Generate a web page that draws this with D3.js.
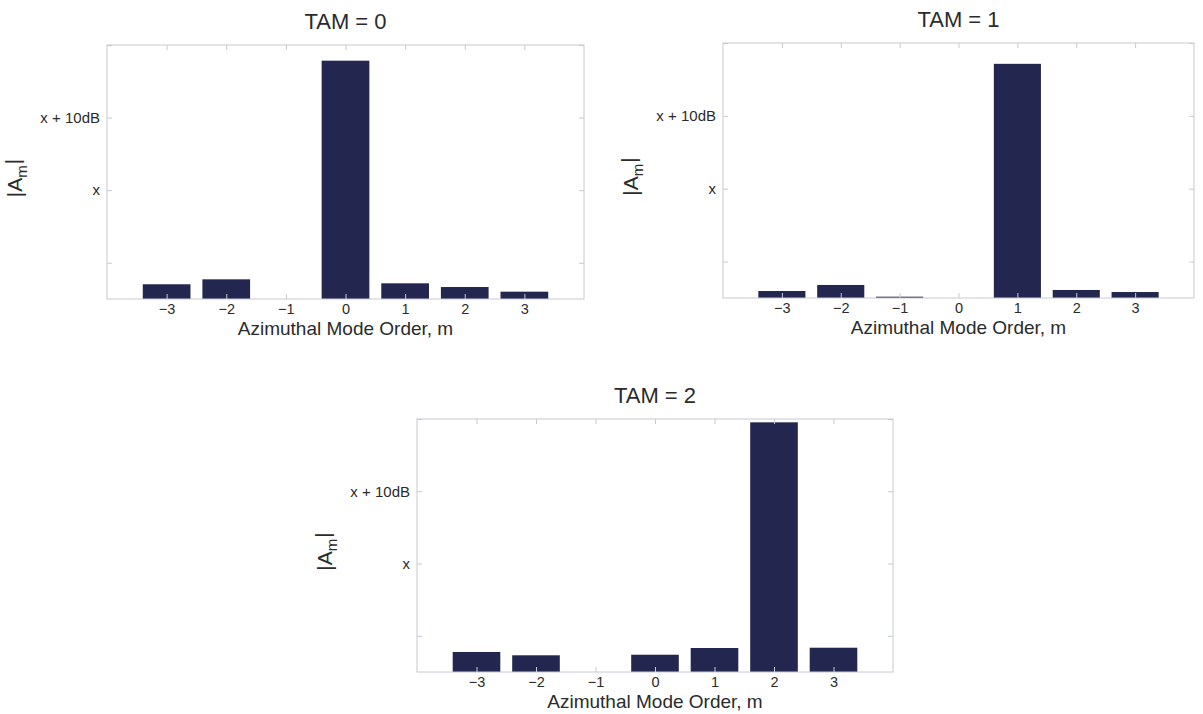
<!DOCTYPE html>
<html>
<head>
<meta charset="utf-8">
<script src="https://cdn.jsdelivr.net/npm/d3@7"></script>
<style>
  html, body { margin: 0; padding: 0; background: #ffffff; }
  svg { display: block; }
  text { font-family: "Liberation Sans", Arial, Helvetica, sans-serif; fill: #2b2b2b; }
</style>
</head>
<body>
<script>
// ---- Data (dB relative to reference level x) ----
const modes = [-3, -2, -1, 0, 1, 2, 3];
const tam0Values = [-12.97, -12.29, -15, 17.84, -12.84, -13.35, -13.99];
const tam1Values = [-14.04, -13.21, -14.82, -15, 17.14, -13.90, -14.18];
const tam2Values = [-12.23, -12.69, -15, -12.61, -11.68, 19.54, -11.64];
const panelTitles = ["TAM = 0", "TAM = 1", "TAM = 2"];
const xTickLabels = ["\u22123", "\u22122", "\u22121", "0", "1", "2", "3"];
const yTickValues = [-10, 0, 10, 20];
const yTickLabels = ["", "x", "x + 10dB", ""];
const xDomain = [-4, 4];
const yDomain = [-15, 20];
const xAxisTitle = "Azimuthal Mode Order, m";

const W = 1203, H = 714;
const svg = d3.select("body").append("svg").attr("width", W).attr("height", H);
svg.append("rect").attr("width", W).attr("height", H).attr("fill", "#ffffff");

const panels = [
  { values: tam0Values, title: panelTitles[0], left: 107, top: 45, right: 584, bottom: 299 },
  { values: tam1Values, title: panelTitles[1], left: 723, top: 43, right: 1194, bottom: 298 },
  { values: tam2Values, title: panelTitles[2], left: 417, top: 419, right: 893, bottom: 672 }
];

const barColor = "#23264f";
const frameColor = "#c6cad3";

panels.forEach(p => {
  const x = d3.scaleLinear().domain(xDomain).range([p.left, p.right]);
  const y = d3.scaleLinear().domain(yDomain).range([p.bottom, p.top]);
  const g = svg.append("g");

  // bars
  const barHalf = 0.4;
  g.selectAll("rect.bar")
    .data(modes.map((m, i) => ({ m, v: p.values[i] })).filter(d => d.v > yDomain[0]))
    .enter().append("rect")
    .attr("class", "bar")
    .attr("x", d => x(d.m - barHalf))
    .attr("width", d => x(d.m + barHalf) - x(d.m - barHalf))
    .attr("y", d => y(d.v))
    .attr("height", d => y(yDomain[0]) - y(d.v))
    .attr("fill", barColor);

  // axes (ticks inside, MATLAB box style)
  const styleAxis = sel => {
    sel.select(".domain").remove();
    sel.selectAll(".tick line").attr("stroke", frameColor).attr("stroke-width", 1);
  };

  const xb = d3.axisBottom(x).tickValues(modes).tickSize(-5).tickPadding(5)
    .tickFormat((d, i) => xTickLabels[i]);
  g.append("g").attr("transform", `translate(0,${p.bottom})`).call(xb).call(styleAxis)
    .selectAll("text").style("font-size", "14.5px").style("font-family", "Liberation Sans, Arial, sans-serif").attr("fill", "#2b2b2b");

  const xt = d3.axisTop(x).tickValues(modes).tickSize(-5).tickFormat("");
  g.append("g").attr("transform", `translate(0,${p.top})`).call(xt).call(styleAxis);

  const yl = d3.axisLeft(y).tickValues(yTickValues).tickSize(-5).tickPadding(7)
    .tickFormat((d, i) => yTickLabels[i]);
  g.append("g").attr("transform", `translate(${p.left},0)`).call(yl).call(styleAxis)
    .selectAll("text").style("font-size", "15px").style("font-family", "Liberation Sans, Arial, sans-serif").attr("fill", "#2b2b2b");

  const yr = d3.axisRight(y).tickValues(yTickValues).tickSize(-5).tickFormat("");
  g.append("g").attr("transform", `translate(${p.right},0)`).call(yr).call(styleAxis);

  // frame
  g.append("rect")
    .attr("x", p.left).attr("y", p.top)
    .attr("width", p.right - p.left).attr("height", p.bottom - p.top)
    .attr("fill", "none").attr("stroke", frameColor).attr("stroke-width", 1);

  // title
  g.append("text")
    .attr("x", (p.left + p.right) / 2).attr("y", p.top - 16)
    .attr("text-anchor", "middle").style("font-size", "22px")
    .text(p.title);

  // x axis title
  g.append("text")
    .attr("x", (p.left + p.right) / 2).attr("y", p.bottom + 36)
    .attr("text-anchor", "middle").style("font-size", "19px")
    .text(xAxisTitle);

  // y axis title |A_m|
  const cy = (p.top + p.bottom) / 2 + 6;
  const yt = g.append("text")
    .attr("transform", `translate(${p.left - 85},${cy}) rotate(-90)`)
    .attr("text-anchor", "middle").style("font-size", "21px");
  yt.append("tspan").text("|A");
  yt.append("tspan").attr("dy", "0.3em").style("font-size", "15px").text("m");
  yt.append("tspan").attr("dy", "-0.3em").attr("dx", "1").text("|");
});
</script>
</body>
</html>
